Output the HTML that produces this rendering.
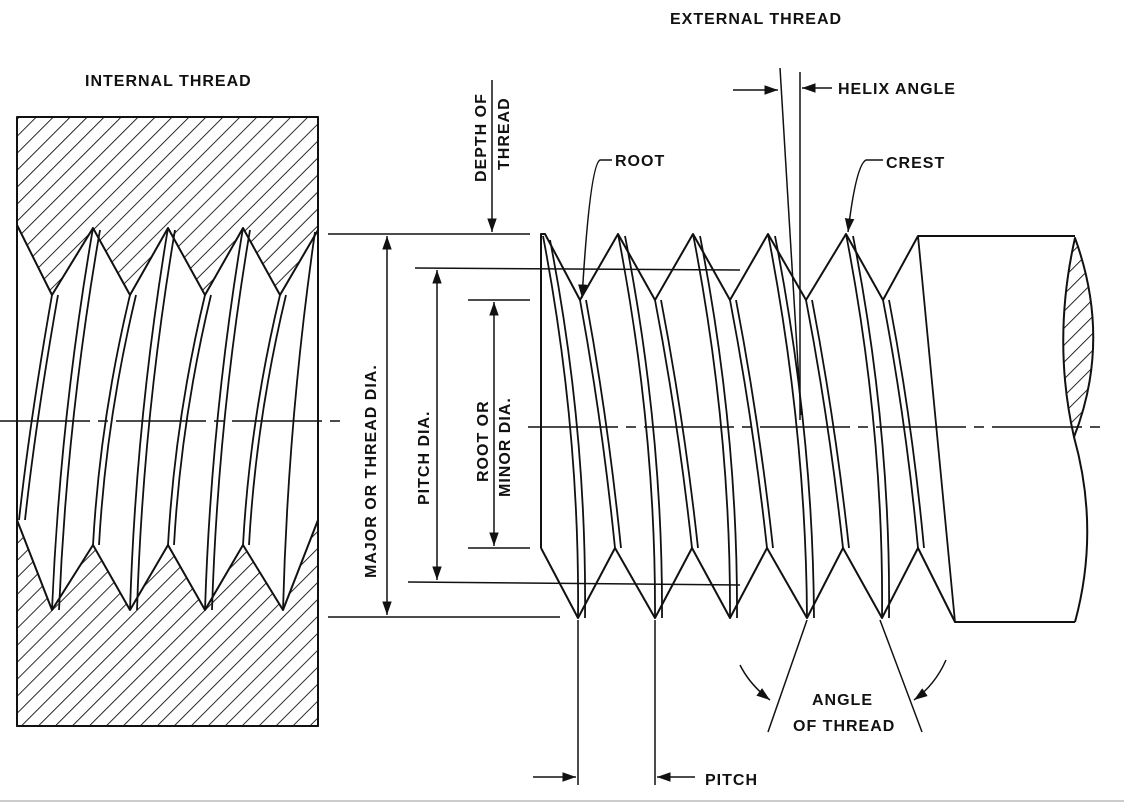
<!DOCTYPE html>
<html><head><meta charset="utf-8"><style>
html,body{margin:0;padding:0;background:#fff;}
svg{display:block;}
text{font-family:"Liberation Sans",sans-serif;font-weight:bold;font-size:16px;fill:#111;letter-spacing:1px;}
</style></head><body>
<svg width="1124" height="803" viewBox="0 0 1124 803" xmlns="http://www.w3.org/2000/svg">
<defs>
<pattern id="h" patternUnits="userSpaceOnUse" width="12" height="12" patternTransform="rotate(45)">
<line x1="0" y1="0" x2="0" y2="12" stroke="#111" stroke-width="1.8"/>
</pattern>
<marker id="a" viewBox="0 0 10 10" refX="10" refY="5" markerWidth="9" markerHeight="9" orient="auto-start-reverse">
<path d="M0,1.5 L10,5 L0,8.5 z" fill="#111"/>
</marker>
</defs>
<g fill="none" stroke="#111" stroke-width="2" stroke-linejoin="round">
<!-- INTERNAL THREAD -->
<polygon points="17,117 318,117 318,230 280,295 243,228 205,295 168,228 130,295 93,228 52,295 17,225" fill="url(#h)"/>
<polygon points="17,520 52,610 93,545 130,610 168,545 205,610 243,545 283,610 318,520 318,726 17,726" fill="url(#h)"/>
<polyline points="17,117 318,117 318,726 17,726 17,117"/>
<g stroke-width="1.8">
<path d="M93,228 Q60,420 52,610"/><path d="M100,230 Q67,420 59,610"/>
<path d="M168,228 Q136,420 130,610"/><path d="M175,230 Q143,420 137,610"/>
<path d="M243,228 Q211,420 205,610"/><path d="M250,230 Q218,420 212,610"/>
<path d="M315,232 Q288,420 283,610"/>
<path d="M52,295 Q30,420 19,520"/><path d="M58,295 Q36,420 25,520"/>
<path d="M130,295 Q100,420 93,545"/><path d="M136,295 Q106,420 99,545"/>
<path d="M205,295 Q175,420 168,545"/><path d="M211,295 Q181,420 174,545"/>
<path d="M280,295 Q250,420 243,545"/><path d="M286,295 Q256,420 249,545"/>
</g>
<!-- EXTERNAL THREAD -->
<polyline points="541,548 541,234 545,234 580,300 618,234 655,300 693,234 730,300 768,234 806,300 846,234 883,300 918,236 1075,236"/>
<polyline points="541,548 578,618 615,548 655,618 692,548 730,618 767,548 807,618 843,548 882,618 918,548 955,622 1075,622"/>
<g stroke-width="1.8">
<path d="M543,236 Q580,430 578,618"/><path d="M550,240 Q587,430 585,618"/>
<path d="M618,234 Q656,430 655,618"/><path d="M625,236 Q663,430 662,618"/>
<path d="M693,234 Q731,430 730,618"/><path d="M700,236 Q738,430 737,618"/>
<path d="M768,234 Q806,430 807,618"/><path d="M775,236 Q813,430 814,618"/>
<path d="M846,234 Q884,430 882,618"/><path d="M853,236 Q891,430 889,618"/>
<path d="M580,300 Q602,420 615,548"/><path d="M586,300 Q608,420 621,548"/>
<path d="M655,300 Q678,420 692,548"/><path d="M661,300 Q684,420 698,548"/>
<path d="M730,300 Q753,420 767,548"/><path d="M736,300 Q759,420 773,548"/>
<path d="M806,300 Q829,420 843,548"/><path d="M812,300 Q835,420 849,548"/>
<path d="M883,300 Q906,420 918,548"/><path d="M889,300 Q912,420 924,548"/>
<path d="M918,236 Q935,420 955,622"/>
</g>
<path d="M1075,238 Q1052,340 1074,437 Q1112,340 1075,238 z" fill="url(#h)"/>
<path d="M1074,437 Q1100,530 1075,622"/>
</g>
<g stroke="#111" stroke-width="1.5" fill="none">
<path d="M0,421 H340" stroke-dasharray="90,8,10,8"/>
<path d="M528,427 H1100" stroke-dasharray="90,8,10,8"/>
<line x1="328" y1="234" x2="530" y2="234"/>
<line x1="328" y1="617" x2="560" y2="617"/>
<line x1="387" y1="236" x2="387" y2="615" marker-start="url(#a)" marker-end="url(#a)"/>
<line x1="415" y1="268" x2="740" y2="270"/>
<line x1="408" y1="582" x2="740" y2="585"/>
<line x1="437" y1="270" x2="437" y2="580" marker-start="url(#a)" marker-end="url(#a)"/>
<line x1="468" y1="300" x2="530" y2="300"/>
<line x1="468" y1="548" x2="530" y2="548"/>
<line x1="494" y1="302" x2="494" y2="546" marker-start="url(#a)" marker-end="url(#a)"/>
<line x1="492" y1="80" x2="492" y2="232" marker-end="url(#a)"/>
<line x1="780" y1="68" x2="801" y2="415"/>
<line x1="800" y1="72" x2="800" y2="420"/>
<line x1="733" y1="90" x2="778" y2="90" marker-end="url(#a)"/>
<line x1="832" y1="88" x2="802" y2="88" marker-end="url(#a)"/>
<path d="M612,160 H600 Q590,165 582,298" marker-end="url(#a)"/>
<path d="M883,160 H866 Q856,165 848,232" marker-end="url(#a)"/>
<line x1="807" y1="620" x2="768" y2="732"/>
<line x1="880" y1="620" x2="922" y2="732"/>
<path d="M740,665 Q750,685 770,700" marker-end="url(#a)"/>
<path d="M946,660 Q935,685 914,700" marker-end="url(#a)"/>
<line x1="578" y1="620" x2="578" y2="785"/>
<line x1="655" y1="620" x2="655" y2="785"/>
<line x1="533" y1="777" x2="576" y2="777" marker-end="url(#a)"/>
<line x1="695" y1="777" x2="657" y2="777" marker-end="url(#a)"/>
</g>
<line x1="0" y1="801" x2="1124" y2="801" stroke="#ccc" stroke-width="2"/>
<text x="85" y="86">INTERNAL THREAD</text>
<text x="670" y="24">EXTERNAL THREAD</text>
<text x="838" y="94">HELIX ANGLE</text>
<text x="615" y="166">ROOT</text>
<text x="886" y="168">CREST</text>
<text x="812" y="705">ANGLE</text>
<text x="793" y="731">OF THREAD</text>
<text x="705" y="785">PITCH</text>
<text transform="translate(376,578) rotate(-90)">MAJOR OR THREAD DIA.</text>
<text transform="translate(429,505) rotate(-90)">PITCH DIA.</text>
<text transform="translate(488,482) rotate(-90)">ROOT OR</text>
<text transform="translate(510,497) rotate(-90)">MINOR DIA.</text>
<text transform="translate(486,182) rotate(-90)">DEPTH OF</text>
<text transform="translate(509,170) rotate(-90)">THREAD</text>
</svg>
</body></html>
